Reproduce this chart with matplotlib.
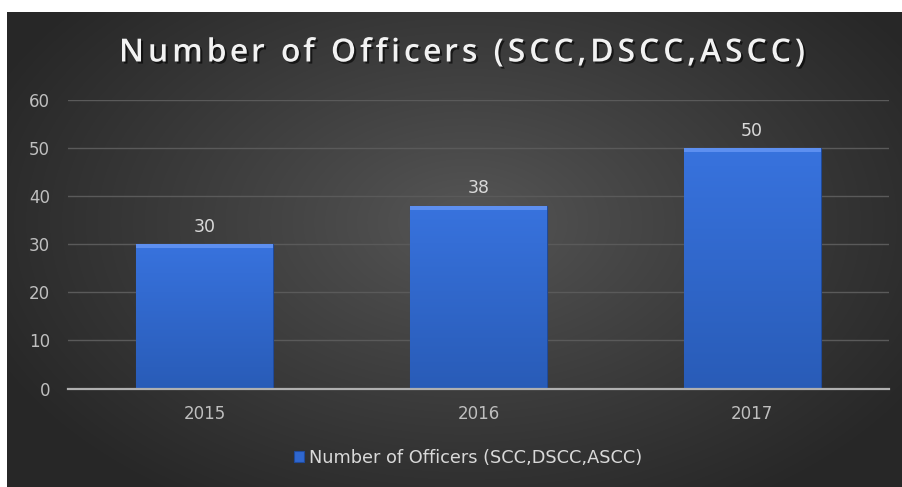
import numpy as np
import matplotlib
matplotlib.use("Agg")
import matplotlib.pyplot as plt
import matplotlib.patheffects as pe
from matplotlib.textpath import TextPath
from matplotlib.font_manager import FontProperties

categories = ["2015", "2016", "2017"]
values = [30, 38, 50]
series_name = "Number of Officers (SCC,DSCC,ASCC)"
title = "Number of Officers (SCC,DSCC,ASCC)"
yticks = [0, 10, 20, 30, 40, 50, 60]

W, H = 903, 487
fig = plt.figure(figsize=(W / 100, H / 100), dpi=100)
fig.patch.set_facecolor("white")

# background radial gradient panel (white strip at top and left)
bg = fig.add_axes([7 / W, 0, 1 - 7 / W, (H - 12) / H], zorder=0)
yy, xx = np.mgrid[0:475, 0:896]
cx, cy = 460, 210
d = np.sqrt(((xx - cx) / 520) ** 2 + ((yy - cy) / 330) ** 2)
d = np.clip(d, 0, 1)
c0, c1 = 0.34, 0.155
g = c0 + (c1 - c0) * d ** 0.9
img = np.dstack([g, g, g])
bg.imshow(img, aspect="auto", extent=[0, 1, 0, 1], origin="upper")
bg.set_axis_off()

ax = fig.add_axes([68 / W, (H - 388.5) / H, (889 - 68) / W, (388.5 - 100) / H], zorder=1)
ax.patch.set_alpha(0)
x = np.arange(len(categories))
bars = ax.bar(x, values, width=0.5, color="#2f67cf", edgecolor="#1f4a9a", linewidth=0.8, zorder=3)

# gradient fill inside each bar
grad = np.linspace(0, 1, 100).reshape(-1, 1)
top = np.array([0.22, 0.45, 0.87])
bot = np.array([0.16, 0.36, 0.72])
gimg = top[None, None, :] * (1 - grad[:, :, None]) + bot[None, None, :] * grad[:, :, None]
for b in bars:
    bx, by, bw, bh = b.get_x(), b.get_y(), b.get_width(), b.get_height()
    im = ax.imshow(gimg, extent=[bx, bx + bw, by, by + bh], aspect="auto", origin="upper", zorder=3.5)
    im.set_clip_path(b)
    ax.fill_between([bx, bx + bw], by + bh - 0.8, by + bh, color="#5d8ff0", zorder=3.6, linewidth=0)

ax.set_xlim(-0.5, len(categories) - 0.5)
ax.set_ylim(0, 60)
ax.set_yticks(yticks)
ax.set_xticks(x)
ax.set_xticklabels(categories)
ax.grid(axis="y", color="#5a5a5a", linewidth=1.0, zorder=1)
ax.set_axisbelow(True)
for s in ["top", "right", "left"]:
    ax.spines[s].set_visible(False)
ax.spines["bottom"].set_color("#b0b0b0")
ax.spines["bottom"].set_linewidth(1.6)
ax.spines["bottom"].set_zorder(4)
ax.tick_params(axis="both", length=0, colors="#bfbfbf", labelsize=12)
ax.tick_params(axis="y", pad=13)
ax.tick_params(axis="x", pad=12)

for xi, v in zip(x, values):
    ax.annotate(str(v), (xi, v), xytext=(0, 6), textcoords="offset points",
                ha="center", va="bottom", color="#d9d9d9", fontsize=12.5)

# title with letter spacing (tracking)
fp = FontProperties(family="Open Sans", weight="semibold", size=23)
px_per_pt = 100 / 72
widths = []
for ch in title:
    if ch == " ":
        w = TextPath((0, 0), "a a", prop=fp).get_extents().width - TextPath((0, 0), "aa", prop=fp).get_extents().width
    else:
        w = TextPath((0, 0), "x" + ch + "x", prop=fp).get_extents().width - TextPath((0, 0), "xx", prop=fp).get_extents().width
    widths.append(w * px_per_pt)
target = 805 - 119
extra = (target - sum(widths)) / (len(title) - 1)
xpos = 462 - target / 2
for ch, w in zip(title, widths):
    fig.text(xpos / W, 1 - 53 / H, ch, ha="left", va="center", color="#f2f2f2",
             fontproperties=fp,
             path_effects=[pe.withSimplePatchShadow(offset=(1.5, -1.5), shadow_rgbFace="black", alpha=0.6)])
    xpos += w + extra

# legend
leg = ax.legend([bars[0]], [series_name], loc="center",
                bbox_to_anchor=((468 - 68) / (889 - 68), (388.5 - 458) / (388.5 - 100)),
                frameon=False, fontsize=12.8, handlelength=0.55, handleheight=0.55, handletextpad=0.3,
                labelcolor="#d9d9d9")

fig.savefig("out.png", dpi=100, facecolor=fig.get_facecolor())
